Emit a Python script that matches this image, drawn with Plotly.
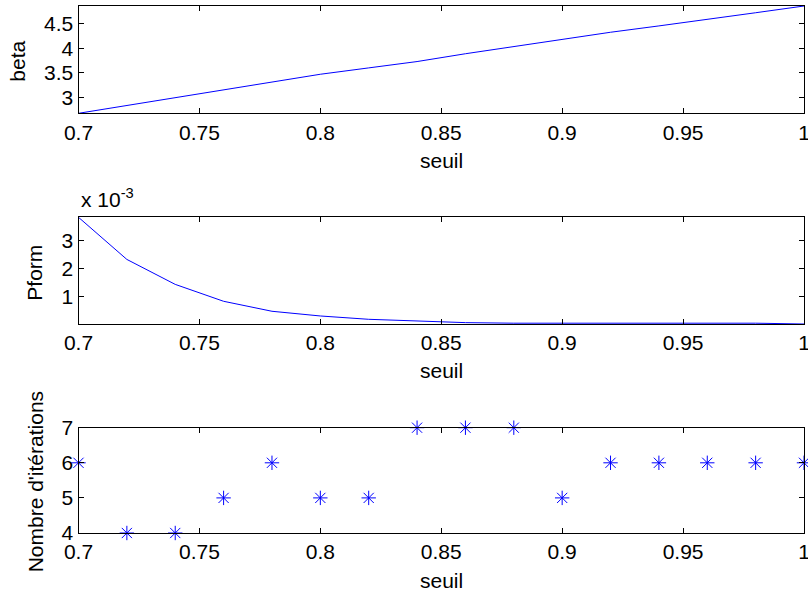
import plotly.graph_objects as go

# seuil values and results
seuil = [0.70, 0.72, 0.74, 0.76, 0.78, 0.80, 0.82, 0.84,
         0.86, 0.88, 0.90, 0.92, 0.94, 0.96, 0.98, 1.00]
beta = [2.67, 2.83, 2.99, 3.16, 3.31, 3.47, 3.60, 3.73,
        3.89, 4.04, 4.19, 4.33, 4.46, 4.59, 4.73, 4.868]
pform = [3.85e-3, 2.33e-3, 1.43e-3, 0.82e-3, 0.46e-3, 0.29e-3, 0.17e-3, 0.10e-3,
         0.05e-3, 0.03e-3, 0.03e-3, 0.03e-3, 0.03e-3, 0.03e-3, 0.03e-3, 0.0006e-3]
iterations = [6, 4, 4, 5, 6, 5, 5, 7, 7, 7, 5, 6, 6, 6, 6, 6]

x_ticks = [0.7, 0.75, 0.8, 0.85, 0.9, 0.95, 1.0]
x_ticktext = ["0.7", "0.75", "0.8", "0.85", "0.9", "0.95", "1"]

W, H = 808, 589
font = dict(family="Liberation Sans, Arial, sans-serif", size=21, color="black")

fig = go.Figure()
fig.add_trace(go.Scatter(x=seuil, y=beta, mode="lines",
                         line=dict(color="#0000ff", width=1), xaxis="x", yaxis="y"))
fig.add_trace(go.Scatter(x=seuil, y=pform, mode="lines",
                         line=dict(color="#0000ff", width=1), xaxis="x2", yaxis="y2"))
fig.add_trace(go.Scatter(x=seuil, y=iterations, mode="markers", cliponaxis=False,
                         marker=dict(symbol="asterisk-open", size=12, color="#0000ff",
                                     line=dict(color="#0000ff", width=1)),
                         xaxis="x3", yaxis="y3"))

def px(x):
    return x / W

def py(y):
    return 1 - y / H

xdom = [px(78.5), px(804)]
rows = [(6, 113.3), (217.3, 324), (427.7, 533)]

common_x = dict(range=[0.7, 1.0], tickvals=x_ticks, ticktext=x_ticktext,
                ticks="inside", ticklen=5, tickcolor="black", mirror="ticks",
                showline=True, linecolor="black", linewidth=1, showgrid=False,
                zeroline=False, domain=xdom, ticklabelstandoff=0, automargin=False,
                ticklabeloverflow="allow")
common_y = dict(ticks="inside", ticklen=5, tickcolor="black", mirror="ticks",
                showline=True, linecolor="black", linewidth=1, showgrid=False,
                zeroline=False, ticklabelstandoff=0, automargin=False)

fig.update_layout(
    xaxis=dict(common_x, anchor="y"),
    yaxis=dict(common_y, anchor="x", domain=[py(rows[0][1]), py(rows[0][0])],
               range=[2.67, 4.868],
               tickvals=[3, 3.5, 4, 4.5], ticktext=["3", "3.5", "4", "4.5"]),
    xaxis2=dict(common_x, anchor="y2"),
    yaxis2=dict(common_y, anchor="x2", domain=[py(rows[1][1]), py(rows[1][0])],
                range=[0.0006e-3, 3.85e-3],
                tickvals=[1e-3, 2e-3, 3e-3], ticktext=["1", "2", "3"]),
    xaxis3=dict(common_x, anchor="y3"),
    yaxis3=dict(common_y, anchor="x3", domain=[py(rows[2][1]), py(rows[2][0])],
                range=[4, 7],
                tickvals=[4, 5, 6, 7], ticktext=["4", "5", "6", "7"]),
)

# axis titles as annotations
ann = []
xc = px((78.5 + 804) / 2)
for (top, bot), ylab, ylx in zip(rows, ["beta", "Pform", "Nombre d'itérations"], [18, 35, 35]):
    ann.append(dict(text="seuil", x=xc, y=py(bot + 47), xref="paper", yref="paper",
                    showarrow=False, xanchor="center", yanchor="middle"))
    ann.append(dict(text=ylab, x=px(ylx), y=py((top + bot) / 2 + 2), xref="paper", yref="paper",
                    showarrow=False, textangle=-90, xanchor="center", yanchor="middle"))
ann.append(dict(text="x 10<sup>-3</sup>", x=px(79), y=py(198), xref="paper", yref="paper",
                showarrow=False, xanchor="left", yanchor="middle"))

fig.update_layout(
    annotations=ann,
    width=W, height=H,
    margin=dict(l=0, r=0, t=0, b=0, autoexpand=False),
    paper_bgcolor="white", plot_bgcolor="white",
    font=font, showlegend=False,
)

# drop the default 8px body margin so the figure fills the window
fig.write_html("out.html", config={"displayModeBar": False},
               post_script="document.body.style.margin='0';")
